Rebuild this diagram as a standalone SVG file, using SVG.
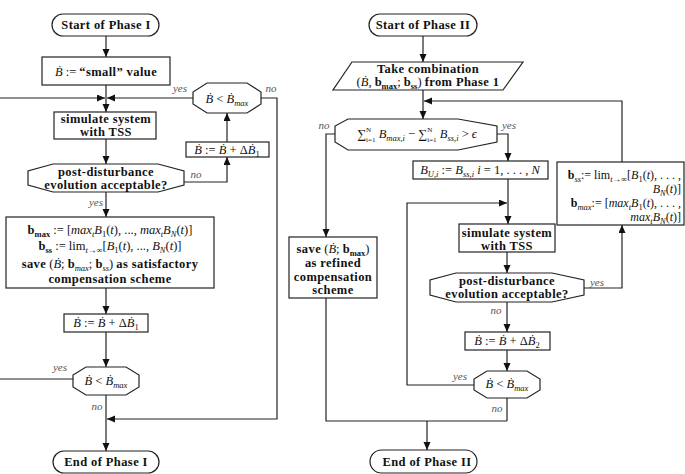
<svg xmlns="http://www.w3.org/2000/svg" width="685" height="474" viewBox="0 0 685 474">
<defs>
<marker id="ah" markerWidth="9" markerHeight="8" refX="8" refY="3.5" orient="auto" markerUnits="userSpaceOnUse"><path d="M0,0 L8,3.5 L0,7 z" fill="#111"/></marker>
<style>
.n{fill:#fff;stroke:#222;stroke-width:1.2}
.c{fill:none;stroke:#222;stroke-width:1.2}
.a{marker-end:url(#ah)}
text{font-family:"Liberation Serif","DejaVu Serif",serif;font-size:12.5px;fill:#111;text-anchor:middle}
.b{font-weight:bold;letter-spacing:0.4px}
.e{text-anchor:end}
.i{font-style:italic}
.bf{font-weight:bold}
.s{font-size:8.5px}
.t{font-size:7px}
.sm{font-size:12px}
.lab{font-style:italic;font-size:11px;fill:#555}
</style>
</defs>
<rect width="685" height="474" fill="#fff"/>

<g id="connectors">
<path class="c a" d="M106,36 V57"/>
<path class="c a" d="M106,85 V112"/>
<path class="c a" d="M0,98 H105"/>
<path class="c a" d="M193,98 H107"/>
<path class="c a" d="M106,139 V164"/>
<path class="c a" d="M184,182 H227 V157"/>
<path class="c a" d="M227,142 V113"/>
<path class="c a" d="M261,98 H277 V419 H107"/>
<path class="c a" d="M106,192 V217"/>
<path class="c a" d="M106,288 V314"/>
<path class="c a" d="M106,332 V367"/>
<path class="c" d="M73,379 H0"/>
<path class="c a" d="M106,395 V451"/>

<path class="c a" d="M423,36 V62"/>
<path class="c a" d="M423,90 V119"/>
<path class="c a" d="M622,162 V101 H424"/>
<path class="c a" d="M335,134 H326 V237"/>
<path class="c a" d="M497,134 H508 V161"/>
<path class="c a" d="M508,179 V224"/>
<path class="c a" d="M474,385 H407 V203 H507"/>
<path class="c a" d="M507,252 V273"/>
<path class="c a" d="M584,288 H622 V225"/>
<path class="c a" d="M507,302 V332"/>
<path class="c a" d="M507,350 V371"/>
<path class="c" d="M507,398 V421 M326,298 V421 H507"/>
<path class="c a" d="M427,421 V450"/>
</g>

<g id="labels">
<text class="lab" x="180" y="92">yes</text>
<text class="lab" x="271" y="92">no</text>
<text class="lab" x="196" y="178">no</text>
<text class="lab" x="96" y="206">yes</text>
<text class="lab" x="60" y="371">yes</text>
<text class="lab" x="97" y="410">no</text>
<text class="lab" x="324" y="129">no</text>
<text class="lab" x="509" y="129">yes</text>
<text class="lab" x="597" y="286">yes</text>
<text class="lab" x="496" y="314">no</text>
<text class="lab" x="460" y="380">yes</text>
<text class="lab" x="497" y="412">no</text>
</g>

<g id="start1">
<rect class="n" x="52" y="14" width="107" height="22" rx="11"/>
<text class="b" x="106" y="29">Start of Phase I</text>
</g>
<g id="init">
<rect class="n" x="42" y="57" width="128" height="28"/>
<text x="106" y="76"><tspan class="i">Ḃ</tspan> := <tspan class="b">“small” value</tspan></text>
</g>
<g id="sim1">
<rect class="n" x="54" y="112" width="102" height="27"/>
<text class="b" x="106" y="122.5">simulate system</text>
<text class="b" x="106" y="135.5">with TSS</text>
</g>
<g id="cond1a">
<polygon class="n" points="207,83 247,83 261,92 261,104 247,113 207,113 193,104 193,92"/>
<text x="227" y="103"><tspan class="i">Ḃ</tspan> &lt; <tspan class="i">Ḃ</tspan><tspan class="s i" baseline-shift="-2.5">max</tspan></text>
</g>
<g id="inc1a">
<rect class="n" x="186" y="142" width="83" height="15"/>
<text x="227" y="154"><tspan class="i">Ḃ</tspan> := <tspan class="i">Ḃ</tspan> + Δ<tspan class="i">Ḃ</tspan><tspan class="s" baseline-shift="-2.5">1</tspan></text>
</g>
<g id="post1">
<polygon class="n" points="53,164 158,164 184,171 184,185 158,192 53,192 28,185 28,171"/>
<text class="b" x="106" y="175.5">post-disturbance</text>
<text class="b" x="106" y="188.5">evolution acceptable?</text>
</g>
<g id="save1">
<rect class="n" x="6" y="217" width="208" height="71"/>
<text x="110" y="234"><tspan class="bf">b</tspan><tspan class="s bf" baseline-shift="-2.5">max</tspan> := [<tspan class="i">max</tspan><tspan class="s i" baseline-shift="-2.5">t</tspan><tspan class="i">B</tspan><tspan class="s" baseline-shift="-2.5">1</tspan>(<tspan class="i">t</tspan>), ..., <tspan class="i">max</tspan><tspan class="s i" baseline-shift="-2.5">t</tspan><tspan class="i">B</tspan><tspan class="s i" baseline-shift="-2.5">N</tspan>(<tspan class="i">t</tspan>)]</text>
<text x="110" y="250"><tspan class="bf">b</tspan><tspan class="s bf" baseline-shift="-2.5">ss</tspan> := lim<tspan class="s" baseline-shift="-2.5"><tspan class="i">t</tspan>→∞</tspan>[<tspan class="i">B</tspan><tspan class="s" baseline-shift="-2.5">1</tspan>(<tspan class="i">t</tspan>), ..., <tspan class="i">B</tspan><tspan class="s i" baseline-shift="-2.5">N</tspan>(<tspan class="i">t</tspan>)]</text>
<text x="110" y="268"><tspan class="b">save</tspan> (<tspan class="i">Ḃ</tspan>; <tspan class="bf">b</tspan><tspan class="s i" baseline-shift="-2.5">max</tspan>; <tspan class="bf">b</tspan><tspan class="s i" baseline-shift="-2.5">ss</tspan>) <tspan class="b">as satisfactory</tspan></text>
<text class="b" x="110" y="283">compensation scheme</text>
</g>
<g id="inc1b">
<rect class="n" x="64" y="314" width="84" height="18"/>
<text x="106" y="327"><tspan class="i">Ḃ</tspan> := <tspan class="i">Ḃ</tspan> + Δ<tspan class="i">Ḃ</tspan><tspan class="s" baseline-shift="-2.5">1</tspan></text>
</g>
<g id="cond1b">
<polygon class="n" points="86,367 126,367 139,375 139,387 126,395 86,395 73,387 73,375"/>
<text x="106" y="385"><tspan class="i">Ḃ</tspan> &lt; <tspan class="i">Ḃ</tspan><tspan class="s i" baseline-shift="-2.5">max</tspan></text>
</g>
<g id="end1">
<rect class="n" x="53" y="451" width="106" height="22" rx="11"/>
<text class="b" x="106" y="466">End of Phase I</text>
</g>

<g id="start2">
<rect class="n" x="369" y="14" width="108" height="22" rx="11"/>
<text class="b" x="423" y="29">Start of Phase II</text>
</g>
<g id="take">
<polygon class="n" points="352,62 523,62 503,90 333,90"/>
<text class="b" x="428" y="73">Take combination</text>
<text x="428" y="86">(<tspan class="i">Ḃ</tspan>, <tspan class="bf">b</tspan><tspan class="s bf" baseline-shift="-2.5">max</tspan>; <tspan class="bf">b</tspan><tspan class="s bf" baseline-shift="-2.5">ss</tspan>) <tspan class="b">from Phase 1</tspan></text>
</g>
<g id="sumcond">
<polygon class="n" points="348,119 458,119 497,126 497,142 458,150 348,150 335,142 335,126"/>
<text x="417" y="138" font-size="12">∑<tspan class="t" baseline-shift="6">N</tspan><tspan class="t" baseline-shift="-3.5" dx="-5">i=1</tspan> <tspan class="i">B</tspan><tspan class="s i" baseline-shift="-2.5">max,i</tspan> − ∑<tspan class="t" baseline-shift="6">N</tspan><tspan class="t" baseline-shift="-3.5" dx="-5">i=1</tspan> <tspan class="i">B</tspan><tspan class="s i" baseline-shift="-2.5">ss,i</tspan> &gt; <tspan class="i">ϵ</tspan></text>
</g>
<g id="bu">
<rect class="n" x="413" y="161" width="135" height="18"/>
<text x="480" y="174"><tspan class="i">B</tspan><tspan class="s i" baseline-shift="-2.5">U,i</tspan> := <tspan class="i">B</tspan><tspan class="s i" baseline-shift="-2.5">ss,i</tspan>   <tspan class="i">i</tspan> = 1, . . . , <tspan class="i">N</tspan></text>
</g>
<g id="update">
<rect class="n" x="557" y="162" width="127" height="63"/>
<text class="e sm" x="681" y="179"><tspan class="bf">b</tspan><tspan class="s i" baseline-shift="-2.5">ss</tspan>:= lim<tspan class="s" baseline-shift="-2.5"><tspan class="i">t</tspan>→∞</tspan>[<tspan class="i">B</tspan><tspan class="s" baseline-shift="-2.5">1</tspan>(<tspan class="i">t</tspan>), . . . ,</text>
<text class="e sm" x="681" y="193"><tspan class="i">B</tspan><tspan class="s i" baseline-shift="-2.5">N</tspan>(<tspan class="i">t</tspan>)]</text>
<text class="e sm" x="681" y="207"><tspan class="bf">b</tspan><tspan class="s i" baseline-shift="-2.5">max</tspan>:= [<tspan class="i">max</tspan><tspan class="s i" baseline-shift="-2.5">t</tspan><tspan class="i">B</tspan><tspan class="s" baseline-shift="-2.5">1</tspan>(<tspan class="i">t</tspan>), . . . ,</text>
<text class="e sm" x="681" y="221"><tspan class="i">max</tspan><tspan class="s i" baseline-shift="-2.5">t</tspan><tspan class="i">B</tspan><tspan class="s i" baseline-shift="-2.5">N</tspan>(<tspan class="i">t</tspan>)]</text>
</g>
<g id="save2">
<rect class="n" x="289" y="237" width="88" height="61"/>
<text x="333" y="253"><tspan class="b">save</tspan> (<tspan class="i">Ḃ</tspan>; <tspan class="bf">b</tspan><tspan class="s bf" baseline-shift="-2.5">max</tspan>)</text>
<text class="b" x="333" y="267">as refined</text>
<text class="b" x="333" y="281">compensation</text>
<text class="b" x="333" y="294">scheme</text>
</g>
<g id="sim2">
<rect class="n" x="459" y="224" width="96" height="28"/>
<text class="b" x="507" y="236.5">simulate system</text>
<text class="b" x="507" y="249.5">with TSS</text>
</g>
<g id="post2">
<polygon class="n" points="456,273 552,273 584,280 584,295 552,302 456,302 430,295 430,280"/>
<text class="b" x="507" y="284.5">post-disturbance</text>
<text class="b" x="507" y="297.5">evolution acceptable?</text>
</g>
<g id="inc2">
<rect class="n" x="465" y="332" width="85" height="18"/>
<text x="507" y="345"><tspan class="i">Ḃ</tspan> := <tspan class="i">Ḃ</tspan> + Δ<tspan class="i">Ḃ</tspan><tspan class="s" baseline-shift="-2.5">2</tspan></text>
</g>
<g id="cond2">
<polygon class="n" points="487,371 527,371 540,379 540,390 527,398 487,398 474,390 474,379"/>
<text x="507" y="388"><tspan class="i">Ḃ</tspan> &lt; <tspan class="i">Ḃ</tspan><tspan class="s i" baseline-shift="-2.5">max</tspan></text>
</g>
<g id="end2">
<rect class="n" x="370" y="450" width="107" height="23" rx="11.5"/>
<text class="b" x="427" y="466">End of Phase II</text>
</g>
</svg>
